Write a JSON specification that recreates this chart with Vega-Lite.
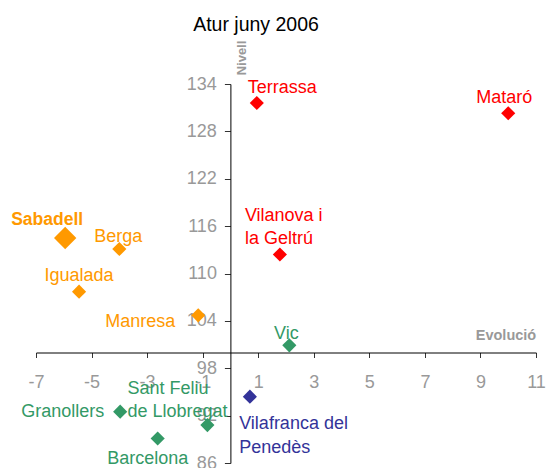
{
  "$schema": "https://vega.github.io/schema/vega-lite/v6.json",
  "width": 500,
  "height": 379,
  "autosize": {"type": "none"},
  "padding": {"left": 36, "top": 84, "right": 10, "bottom": 5},
  "background": "white",
  "config": {
    "view": {"stroke": null},
    "font": "Liberation Sans"
  },
  "title": {
    "text": "Atur juny 2006",
    "font": "Liberation Sans",
    "fontSize": 19.5,
    "fontWeight": "normal",
    "color": "#000000",
    "anchor": "middle",
    "frame": "group",
    "dx": -30,
    "offset": -10.2,
    "baseline": "alphabetic"
  },
  "data": {
    "values": [
      {"ciutat": "Terrassa", "etiqueta": "Terrassa", "evolucio": 0.95, "nivell": 131.6, "grup": "g1"},
      {"ciutat": "Mataró", "etiqueta": "Mataró", "evolucio": 10.0, "nivell": 130.3, "grup": "g1"},
      {"ciutat": "Vilanova i la Geltrú", "etiqueta": "Vilanova i\nla Geltrú", "evolucio": 1.78, "nivell": 112.4, "grup": "g1"},
      {"ciutat": "Vic", "etiqueta": "Vic", "evolucio": 2.12, "nivell": 100.9, "grup": "g3"},
      {"ciutat": "Vilafranca del Penedès", "etiqueta": "Vilafranca del\nPenedès", "evolucio": 0.7, "nivell": 94.4, "grup": "g4"},
      {"ciutat": "Sabadell", "etiqueta": "Sabadell", "evolucio": -5.95, "nivell": 114.5, "grup": "g2"},
      {"ciutat": "Berga", "etiqueta": "Berga", "evolucio": -4.0, "nivell": 113.1, "grup": "g2"},
      {"ciutat": "Igualada", "etiqueta": "Igualada", "evolucio": -5.45, "nivell": 107.7, "grup": "g2"},
      {"ciutat": "Manresa", "etiqueta": "Manresa", "evolucio": -1.16, "nivell": 104.7, "grup": "g2"},
      {"ciutat": "Granollers", "etiqueta": "Granollers", "evolucio": -3.97, "nivell": 92.5, "grup": "g3"},
      {"ciutat": "Barcelona", "etiqueta": "Barcelona", "evolucio": -2.62, "nivell": 89.1, "grup": "g3"},
      {"ciutat": "Sant Feliu de Llobregat", "etiqueta": "Sant Feliu\nde Llobregat", "evolucio": -0.83, "nivell": 90.8, "grup": "g3"}
    ]
  },
  "encoding": {
    "x": {
      "field": "evolucio",
      "type": "quantitative",
      "scale": {"domain": [-7, 11], "nice": false, "zero": false},
      "axis": {
        "title": "Evolució",
        "titleFont": "Liberation Sans",
        "titleFontSize": 14.5,
        "titleFontWeight": "bold",
        "titleColor": "#999999",
        "titleX": 469.5,
        "titleY": -17.5,
        "titleAlign": "center",
        "titleBaseline": "middle",
        "titleAnchor": null,
        "offset": -110.5,
        "values": [-7, -5, -3, -1, 1, 3, 5, 7, 9, 11],
        "labelExpr": "toString(datum.value)",
        "grid": false,
        "domainColor": "#000000",
        "tickColor": "#333333",
        "tickSize": 5,
        "labelFont": "Liberation Sans",
        "labelFontSize": 18,
        "labelColor": "#999999",
        "labelPadding": 16,
        "labelFlush": false,
        "labelOverlap": false
      }
    },
    "y": {
      "field": "nivell",
      "type": "quantitative",
      "scale": {"domain": [86, 134], "nice": false, "zero": false},
      "axis": {
        "title": "Nivell",
        "titleFont": "Liberation Sans",
        "titleFontSize": 13,
        "titleFontWeight": "bold",
        "titleColor": "#999999",
        "titleAngle": -90,
        "titleX": 10.6,
        "titleY": -26.5,
        "titleAlign": "center",
        "titleBaseline": "middle",
        "titleAnchor": null,
        "offset": -194.4,
        "values": [86, 92, 98, 104, 110, 116, 122, 128, 134],
        "grid": false,
        "domainColor": "#000000",
        "tickColor": "#333333",
        "tickSize": 6,
        "labelFont": "Liberation Sans",
        "labelFontSize": 18,
        "labelColor": "#999999",
        "labelPadding": 8,
        "labelFlush": false,
        "labelOverlap": false
      }
    },
    "color": {
      "field": "grup",
      "type": "nominal",
      "scale": {"domain": ["g1", "g2", "g3", "g4"], "range": ["#FF0000", "#FF9900", "#339966", "#333399"]},
      "legend": null
    },
    "text": {"field": "etiqueta"}
  },
  "layer": [
    {
      "mark": {"type": "point", "shape": "diamond", "filled": true, "opacity": 1, "strokeWidth": 0},
      "encoding": {
        "size": {"condition": {"test": "datum.ciutat === 'Sabadell'", "value": 500}, "value": 200}
      }
    },
    {"transform": [{"filter": "datum.ciutat === 'Terrassa'"}], "mark": {"type": "text", "fontSize": 18, "align": "left", "baseline": "middle", "dx": -9, "dy": -15}},
    {"transform": [{"filter": "datum.ciutat === 'Mataró'"}], "mark": {"type": "text", "fontSize": 18, "align": "center", "baseline": "middle", "dx": -4, "dy": -15}},
    {"transform": [{"filter": "datum.ciutat === 'Vilanova i la Geltrú'"}], "mark": {"type": "text", "fontSize": 18, "align": "left", "baseline": "middle", "dx": -35, "dy": -38.6, "lineBreak": "\n", "lineHeight": 22.6}},
    {"transform": [{"filter": "datum.ciutat === 'Vic'"}], "mark": {"type": "text", "fontSize": 18, "align": "center", "baseline": "middle", "dx": -3, "dy": -11}},
    {"transform": [{"filter": "datum.ciutat === 'Vilafranca del Penedès'"}], "mark": {"type": "text", "fontSize": 18, "align": "left", "baseline": "middle", "dx": -10.7, "dy": 27.3, "lineBreak": "\n", "lineHeight": 24.3}},
    {"transform": [{"filter": "datum.ciutat === 'Sabadell'"}], "mark": {"type": "text", "fontSize": 17.5, "fontWeight": "bold", "align": "center", "baseline": "middle", "dx": -18, "dy": -17.7}},
    {"transform": [{"filter": "datum.ciutat === 'Berga'"}], "mark": {"type": "text", "fontSize": 18, "align": "center", "baseline": "middle", "dx": -1, "dy": -12}},
    {"transform": [{"filter": "datum.ciutat === 'Igualada'"}], "mark": {"type": "text", "fontSize": 18, "align": "center", "baseline": "middle", "dx": 0, "dy": -15.7}},
    {"transform": [{"filter": "datum.ciutat === 'Manresa'"}], "mark": {"type": "text", "fontSize": 18, "align": "right", "baseline": "middle", "dx": -23, "dy": 6.7}},
    {"transform": [{"filter": "datum.ciutat === 'Granollers'"}], "mark": {"type": "text", "fontSize": 18, "align": "right", "baseline": "middle", "dx": -16, "dy": 0}},
    {"transform": [{"filter": "datum.ciutat === 'Barcelona'"}], "mark": {"type": "text", "fontSize": 18, "align": "center", "baseline": "middle", "dx": -10, "dy": 20}},
    {"transform": [{"filter": "datum.ciutat === 'Sant Feliu de Llobregat'"}], "mark": {"type": "text", "fontSize": 18, "align": "left", "baseline": "middle", "dx": -80, "dy": -35.7, "lineBreak": "\n", "lineHeight": 22.4}}
  ]
}
